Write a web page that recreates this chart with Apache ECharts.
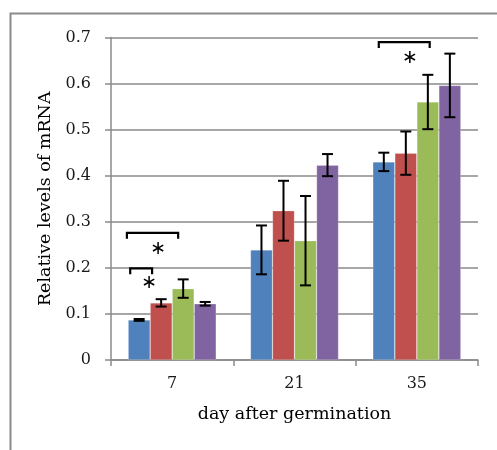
<!DOCTYPE html>
<html>
<head>
<meta charset="utf-8">
<script src="https://cdn.jsdelivr.net/npm/echarts@6/dist/echarts.min.js"></script>
<style>html,body{margin:0;padding:0;background:#fff}#c{width:497px;height:450px}</style>
</head>
<body>
<div id="c"></div>
<script>
// ---- data ----
const categories = ['7', '21', '35'];
const blueVals   = [0.087, 0.239, 0.430];
const redVals    = [0.124, 0.324, 0.449];
const greenVals  = [0.155, 0.259, 0.560];
const purpleVals = [0.122, 0.423, 0.596];
const blueErr   = [0.002, 0.053, 0.020];
const redErr    = [0.008, 0.065, 0.047];
const greenErr  = [0.020, 0.097, 0.059];
const purpleErr = [0.004, 0.024, 0.069];
const yTicks = [0, 0.1, 0.2, 0.3, 0.4, 0.5, 0.6, 0.7];
// significance brackets: [categoryIndex, topValue, legBottomValue, startOffset, endOffset] (offsets in band fractions)
const brackets = [
  [0, 0.199, 0.186, -0.343, -0.164],
  [0, 0.276, 0.263, -0.370, 0.049],
  [2, 0.690, 0.677, -0.311, 0.105]
];
// asterisks: [categoryIndex, value, offset]
const stars = [
  [0, 0.167, -0.188],
  [0, 0.241, -0.114],
  [2, 0.656, -0.056]
];

const colors = ['#4F81BD', '#C0504D', '#9BBB59', '#8064A2'];
const values = [blueVals, redVals, greenVals, purpleVals];
const errs = [blueErr, redErr, greenErr, purpleErr];
const GROUP = 0.72;
const FONT = 'DejaVu Serif';

const chart = echarts.init(document.getElementById('c'));

const barSeries = values.map((v, i) => ({
  type: 'bar',
  data: v,
  itemStyle: { color: colors[i], borderColor: 'rgba(255,255,255,0.35)', borderWidth: 0.6 },
  barGap: '0%',
  barCategoryGap: '28%',
  silent: true
}));

const errSeries = values.map((v, i) => ({
  type: 'custom',
  data: v.map((val, k) => [k, val - errs[i][k], val + errs[i][k]]),
  z: 10,
  silent: true,
  renderItem: function (params, api) {
    const band = api.size([1, 0])[0];
    const bw = band * GROUP / 4;
    const lo = api.coord([api.value(0), api.value(1)]);
    const hi = api.coord([api.value(0), api.value(2)]);
    const x = lo[0] + (i - 1.5) * bw;
    const cap = 5.5;
    const st = { stroke: '#000', lineWidth: 2, fill: null };
    return {
      type: 'group',
      children: [
        { type: 'line', shape: { x1: x, y1: lo[1], x2: x, y2: hi[1] }, style: st },
        { type: 'line', shape: { x1: x - cap, y1: lo[1], x2: x + cap, y2: lo[1] }, style: st },
        { type: 'line', shape: { x1: x - cap, y1: hi[1], x2: x + cap, y2: hi[1] }, style: st }
      ]
    };
  }
}));

const bracketSeries = {
  type: 'custom',
  data: brackets,
  z: 10,
  silent: true,
  renderItem: function (params, api) {
    const band = api.size([1, 0])[0];
    const top = api.coord([api.value(0), api.value(1)]);
    const bot = api.coord([api.value(0), api.value(2)]);
    const x0 = top[0] + api.value(3) * band;
    const x1 = top[0] + api.value(4) * band;
    return {
      type: 'polyline',
      shape: { points: [[x0, bot[1]], [x0, top[1]], [x1, top[1]], [x1, bot[1]]] },
      style: { stroke: '#000', lineWidth: 2.2, fill: null }
    };
  }
};

const starSeries = {
  type: 'custom',
  data: stars,
  z: 10,
  silent: true,
  renderItem: function (params, api) {
    const band = api.size([1, 0])[0];
    const p = api.coord([api.value(0), api.value(1)]);
    return {
      type: 'text',
      x: p[0] + api.value(2) * band,
      y: p[1],
      style: { text: '∗', fontFamily: 'DejaVu Sans', fontSize: 19, fill: '#000', align: 'center', verticalAlign: 'middle' }
    };
  }
};

chart.setOption({
  animation: false,
  backgroundColor: '#fff',
  grid: { left: 111, right: 19, top: 37.5, bottom: 90 },
  graphic: [{
    type: 'rect', left: 8, top: 11, silent: true,
    shape: { width: 700, height: 700 },
    style: { fill: null, stroke: '#8a8a8a', lineWidth: 2 }
  }],
  xAxis: {
    type: 'category',
    data: categories,
    name: 'day after germination',
    nameLocation: 'middle',
    nameGap: 45,
    nameTextStyle: { fontFamily: FONT, fontSize: 17.5, color: '#000' },
    axisLine: { lineStyle: { color: '#8a8a8a', width: 1.5 } },
    axisTick: { show: true, length: 6, lineStyle: { color: '#8a8a8a', width: 1.5 } },
    axisLabel: { fontFamily: FONT, fontSize: 16, color: '#1a1a1a', margin: 16 }
  },
  yAxis: {
    type: 'value',
    min: yTicks[0], max: yTicks[yTicks.length - 1], interval: 0.1,
    name: 'Relative levels of mRNA',
    nameLocation: 'middle',
    nameGap: 50,
    nameTextStyle: { fontFamily: FONT, fontSize: 17.5, color: '#000' },
    axisLine: { show: true, lineStyle: { color: '#8a8a8a', width: 1.5 } },
    axisTick: { show: true, length: 6, lineStyle: { color: '#8a8a8a', width: 1.5 } },
    splitLine: { lineStyle: { color: '#8a8a8a', width: 1.5 } },
    axisLabel: {
      fontFamily: FONT, fontSize: 16, color: '#1a1a1a', margin: 20,
      formatter: v => (Math.abs(v) < 1e-9 ? '0' : v.toFixed(1))
    }
  },
  series: [...barSeries, ...errSeries, bracketSeries, starSeries]
});
</script>
</body>
</html>
